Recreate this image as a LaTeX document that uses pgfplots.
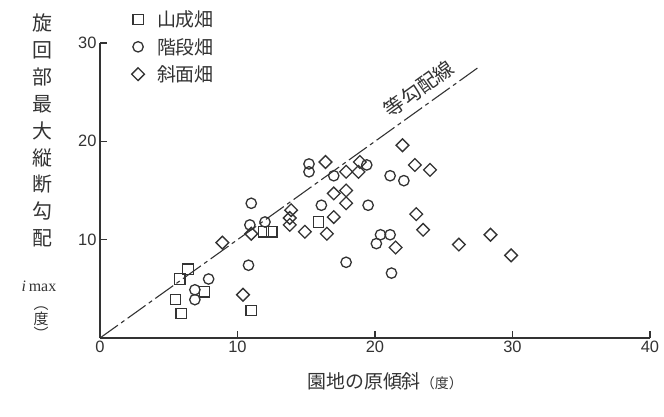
\documentclass[border=0pt]{standalone}
\usepackage{pgfplots}
\pgfplotsset{compat=1.18}
\usepackage{fontspec}
\setmainfont{Liberation Sans}
\newfontfamily\cjk{Noto Sans CJK JP}
\newfontfamily\serif{Liberation Serif}
\definecolor{ink}{gray}{0.2}
\begin{document}
\begin{tikzpicture}
\useasboundingbox (-100bp,-79bp) rectangle (564bp,338bp);
\begin{axis}[
  at={(0bp,0bp)}, anchor=origin,
  scale only axis, width=550bp, height=295bp,
  xmin=0, xmax=40, ymin=0, ymax=30,
  axis lines=left,
  axis line style={-, line width=1.8bp, color=ink},
  xtick={0,10,20,30,40}, ytick={10,20,30},
  tick align=inside, major tick length=7bp,
  tick style={line width=1.2bp, color=ink},
  ticklabel style={font=\fontsize{16.5}{16.5}\selectfont, text=ink},
  /pgf/number format/assume math mode=true,
  clip=false,
  legend style={at={(axis cs:2.1,33.5)}, anchor=north west, draw=none, fill=none,
    font=\cjk\fontsize{19}{19}\selectfont, text=ink, row sep=6bp, inner sep=0pt},
  legend cell align=left,
  legend image code/.code={\draw[#1] plot[only marks] coordinates {(9bp,0bp)}; \path[draw=none, fill=none] (0bp,0bp) rectangle (26bp,0.1bp);},
  every axis plot/.append style={line width=1.3bp, color=ink},
]
\addplot[only marks, mark=square, mark size=5.2bp] coordinates {
(6.4,7.0) (5.8,6.0) (5.5,3.9) (5.9,2.5) (7.6,4.7) (11.0,2.8) (11.9,10.8) (12.5,10.8) (15.9,11.8)
};
\addlegendentry{山成畑}
\addplot[only marks, mark=o, mark size=5.2bp] coordinates {
(7.9,6.0) (6.9,4.9) (6.9,3.9) (10.8,7.4) (11.0,13.7) (10.9,11.5) (12.0,11.8) (15.2,17.7) (15.2,16.9) (17.0,16.5) (19.4,17.6) (16.1,13.5) (19.5,13.5) (21.1,16.5) (22.1,16.0) (17.9,7.7) (20.4,10.5) (21.1,10.5) (20.1,9.6) (21.2,6.6)
};
\addlegendentry{階段畑}
\addplot[only marks, mark=square, mark size=4.5bp, mark options={rotate=45}] coordinates {
(8.9,9.7) (10.4,4.4) (11.0,10.6) (13.9,13.0) (13.8,12.2) (13.8,11.5) (14.9,10.8) (16.5,10.6) (17.0,12.3) (17.0,14.7) (17.9,15.0) (17.9,13.7) (16.4,17.9) (17.9,16.9) (18.9,17.9) (18.8,16.9) (22.0,19.6) (22.9,17.6) (24.0,17.1) (23.0,12.6) (23.5,11.0) (21.5,9.2) (26.1,9.5) (28.4,10.5) (29.9,8.4)
};
\addlegendentry{斜面畑}
\addplot[line width=1.1bp, dash pattern=on 22bp off 4bp on 4bp off 4bp, forget plot]
  coordinates {(0,0) (27.5,27.5)}
  node[pos=0.87, sloped, above, font=\cjk\fontsize{20}{20}\selectfont, text=ink, yshift=4bp] {等勾配線};
\end{axis}
\node[align=center, inner sep=0pt, font=\cjk\fontsize{20}{27}\selectfont, text=ink] at (-58bp,207.5bp)
  {旋\\回\\部\\最\\大\\縦\\断\\勾\\配};
\node[inner sep=0pt, font=\serif\fontsize{16}{16}\selectfont, text=ink] at (-61bp,52bp) {\textit{i}\,max};
\node[align=center, inner sep=0pt, font=\cjk\fontsize{15}{13}\selectfont, text=ink] at (-59bp,15bp) {︵\\度\\︶};
\node[inner sep=0pt, font=\cjk\fontsize{19}{19}\selectfont, text=ink] at (285bp,-43bp) {園地の原傾斜{\fontsize{14}{14}\selectfont（度）}};
\end{tikzpicture}
\end{document}
